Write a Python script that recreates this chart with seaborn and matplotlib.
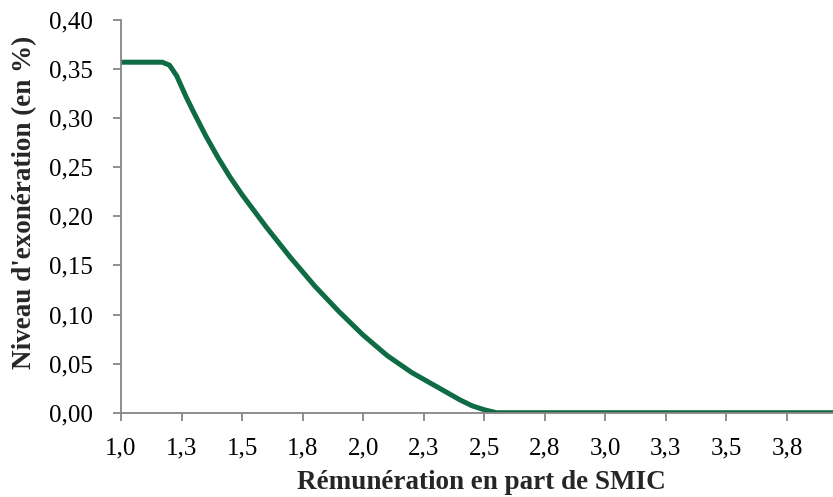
import numpy as np
import pandas as pd
import matplotlib
matplotlib.use("Agg")
import matplotlib.pyplot as plt
from matplotlib.ticker import FuncFormatter, FixedLocator, FixedFormatter
import seaborn as sns

# remuneration as a multiple of the SMIC, and exoneration level
remuneration = [1.00, 1.10, 1.17, 1.20, 1.23, 1.27, 1.30, 1.35, 1.40, 1.45,
                1.50, 1.60, 1.70, 1.80, 1.90, 2.00, 2.10, 2.20, 2.30, 2.40,
                2.45, 2.50, 2.55, 3.00, 3.50, 4.00]
exoneration = [0.357, 0.357, 0.357, 0.354, 0.343, 0.321, 0.306, 0.282, 0.260, 0.240,
               0.222, 0.189, 0.158, 0.129, 0.103, 0.079, 0.058, 0.041, 0.027, 0.013,
               0.007, 0.003, 0.000, 0.000, 0.000, 0.000]

x_ticks = [1.00, 1.25, 1.50, 1.75, 2.00, 2.25, 2.50, 2.75, 3.00, 3.25, 3.50, 3.75]
x_tick_labels = ["1,0", "1,3", "1,5", "1,8", "2,0", "2,3", "2,5", "2,8",
                 "3,0", "3,3", "3,5", "3,8"]
y_ticks = [0.00, 0.05, 0.10, 0.15, 0.20, 0.25, 0.30, 0.35, 0.40]

df = pd.DataFrame({"remu": remuneration, "exo": exoneration})

sns.set_style("ticks")
plt.rcParams["font.family"] = ["Liberation Serif", "DejaVu Serif"]

fig = plt.figure(figsize=(8.33, 4.97), dpi=100)
ax = fig.add_axes([0.1453, 0.1696, 0.8547, 0.7902])

sns.lineplot(data=df, x="remu", y="exo", ax=ax, color="#0E6B44", linewidth=3.6)

ax.set_xlim(1.0, 3.94)
ax.set_ylim(0.0, 0.40)
ax.xaxis.set_major_locator(FixedLocator(x_ticks))
ax.xaxis.set_major_formatter(FixedFormatter(x_tick_labels))
ax.yaxis.set_major_locator(FixedLocator(y_ticks))
ax.yaxis.set_major_formatter(FuncFormatter(lambda v, p: f"{v:.2f}".replace(".", ",")))

grey = "#868686"
for side in ["top", "right"]:
    ax.spines[side].set_visible(False)
for side in ["left", "bottom"]:
    ax.spines[side].set_color(grey)
    ax.spines[side].set_linewidth(1.3)
ax.tick_params(axis="both", direction="out", length=5.5, width=1.3, color=grey,
               labelsize=18, labelcolor="black")
ax.tick_params(axis="y", pad=15)
ax.tick_params(axis="x", pad=12)

ax.set_xlabel("Rémunération en part de SMIC", fontsize=19.5, fontweight="bold")
ax.set_ylabel("Niveau d'exonération (en %)", fontsize=19.5, fontweight="bold")
ax.xaxis.label.set_va("baseline")
ax.xaxis.set_label_coords(0.506, -0.194)
ax.yaxis.label.set_va("center")
ax.yaxis.set_label_coords(-0.1356, 0.535)

fig.savefig("out.png", dpi=100)
